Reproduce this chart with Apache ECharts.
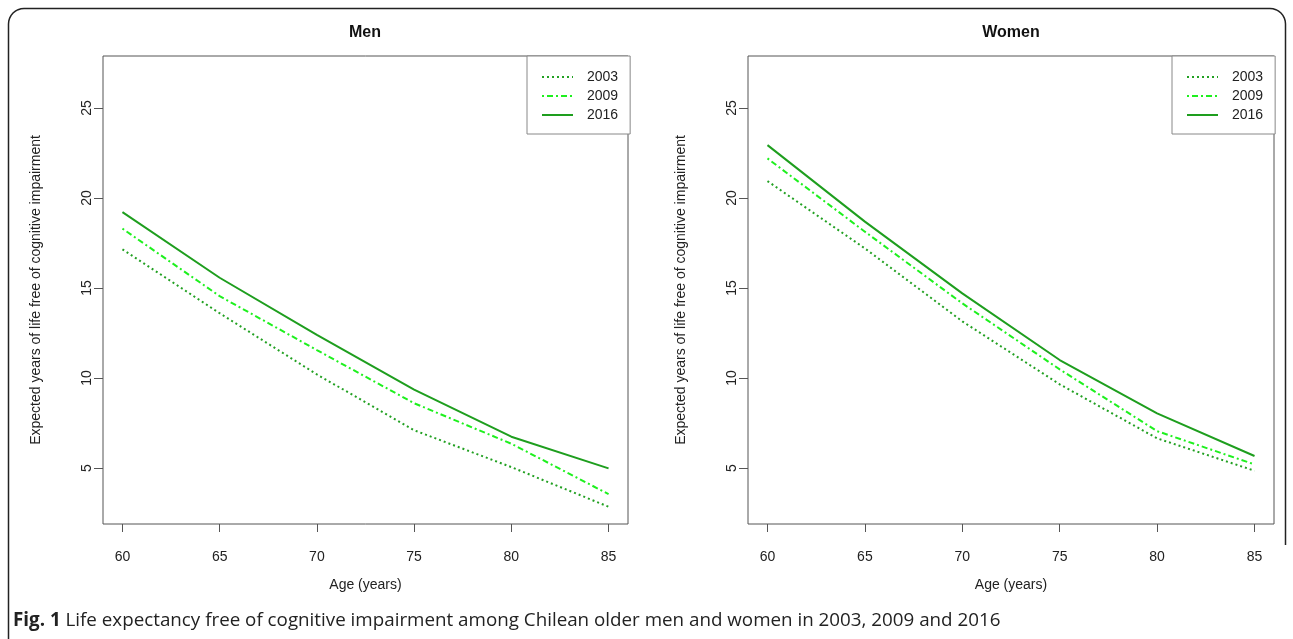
<!DOCTYPE html>
<html>
<head>
<meta charset="utf-8">
<script src="https://cdn.jsdelivr.net/npm/echarts@6/dist/echarts.min.js"></script>
<style>
html,body{margin:0;padding:0;background:#fff;}
#c{width:1293px;height:639px;}
</style>
</head>
<body>
<div id="c"></div>
<script>
var ages = [60, 65, 70, 75, 80, 85];
var years = ['2003', '2009', '2016'];
var men2003 = [17.15, 13.6, 10.2, 7.1, 5.05, 2.85];
var men2009 = [18.3, 14.55, 11.55, 8.6, 6.35, 3.55];
var men2016 = [19.22, 15.57, 12.4, 9.35, 6.74, 4.98];
var women2003 = [20.94, 17.2, 13.15, 9.65, 6.65, 4.85];
var women2009 = [22.2, 18.13, 14.15, 10.48, 7.05, 5.2];
var women2016 = [22.94, 18.69, 14.7, 11.0, 8.04, 5.67];
var xTicks = [60, 65, 70, 75, 80, 85];
var yTicks = [5, 10, 15, 20, 25];
var panelTitles = ['Men', 'Women'];
var xLabel = 'Age (years)';
var yLabel = 'Expected years of life free of cognitive impairment';
var caption = 'Life expectancy free of cognitive impairment among Chilean older men and women in 2003, 2009 and 2016';

var colors = {'2003': '#22a022', '2009': '#1ef01e', '2016': '#1e9e1e'};
var dashes = {'2003': [2, 3], '2009': [2, 3, 6, 3], '2016': 'solid'};
var FONT = '"Liberation Sans", Arial, sans-serif';

function pairs(vals) { return ages.map(function (a, i) { return [a, vals[i]]; }); }

var chart = echarts.init(document.getElementById('c'), null, {renderer: 'canvas'});

var grids = [
  {left: 103, top: 56, width: 525, height: 468},
  {left: 748, top: 56, width: 526, height: 468}
];
var panelData = [[men2003, men2009, men2016], [women2003, women2009, women2016]];

function mkX(i) {
  return {
    type: 'value', gridIndex: i, min: 59, max: 86,
    name: xLabel, nameLocation: 'middle', nameGap: 54,
    nameTextStyle: {fontFamily: FONT, fontSize: 14, color: '#222'},
    axisLine: {show: false},
    splitLine: {show: false},
    axisTick: {show: true, inside: false, length: 8, customValues: xTicks, lineStyle: {color: '#555'}},
    axisLabel: {customValues: xTicks, margin: 26, fontFamily: FONT, fontSize: 14, color: '#222'}
  };
}
function mkY(i) {
  return {
    type: 'value', gridIndex: i, min: 1.89, max: 27.89,
    name: yLabel, nameLocation: 'middle', nameGap: 60,
    nameTextStyle: {fontFamily: FONT, fontSize: 14, color: '#222'},
    axisLine: {show: false},
    splitLine: {show: false},
    axisTick: {show: true, inside: false, length: 9, customValues: yTicks, lineStyle: {color: '#555'}},
    axisLabel: {customValues: yTicks, rotate: 90, margin: 9, fontFamily: FONT, fontSize: 14, color: '#222'}
  };
}

var series = [];
for (var p = 0; p < 2; p++) {
  for (var k = 0; k < years.length; k++) {
    series.push({
      name: years[k], type: 'line', xAxisIndex: p, yAxisIndex: p,
      data: pairs(panelData[p][k]), symbol: 'none', smooth: false,
      color: colors[years[k]],
      lineStyle: {width: 2, type: dashes[years[k]], color: colors[years[k]]},
      animation: false
    });
  }
}

function mkLegend(left) {
  return {
    show: true, orient: 'vertical', left: left, top: 56,
    data: years, selectedMode: false,
    itemWidth: 31, itemHeight: 14, itemGap: 5,
    padding: [14, 12, 12, 14],
    borderColor: '#888', borderWidth: 1, borderRadius: 0,
    backgroundColor: '#fff',
    itemStyle: {opacity: 0},
    textStyle: {fontFamily: FONT, fontSize: 14, color: '#222', padding: [0, 0, 0, 9]}
  };
}

// rounded frame (decoration)
function framePoints() {
  var pts = [[8.5, 650], [8.5, 24]];
  var r = 15.5, cx = 24, cy = 24, i, a;
  for (i = 1; i <= 8; i++) { a = Math.PI + i * Math.PI / 16; pts.push([cx + r * Math.cos(a), cy + r * Math.sin(a)]); }
  pts.push([1270, 8.5]);
  cx = 1270;
  for (i = 1; i <= 8; i++) { a = 1.5 * Math.PI + i * Math.PI / 16; pts.push([cx + r * Math.cos(a), cy + r * Math.sin(a)]); }
  pts.push([1285.5, 545]);
  return pts;
}

chart.setOption({
  animation: false,
  backgroundColor: '#fff',
  title: [
    {text: panelTitles[0], left: 365, top: 25, textAlign: 'center', padding: 0,
     textStyle: {fontFamily: FONT, fontSize: 16, fontWeight: 'bold', color: '#111'}},
    {text: panelTitles[1], left: 1011, top: 25, textAlign: 'center', padding: 0,
     textStyle: {fontFamily: FONT, fontSize: 16, fontWeight: 'bold', color: '#111'}},
    {text: '{b|Fig. 1} ' + caption, left: 13, top: 611, padding: 0,
     textStyle: {fontFamily: '"Open Sans", sans-serif', fontSize: 18.8, fontWeight: 'normal', color: '#222',
       rich: {b: {fontFamily: '"Open Sans", sans-serif', fontSize: 18.8, fontWeight: 'bold', color: '#222'}}}}
  ],
  grid: grids.map(function (g) {
    return {left: g.left, top: g.top, width: g.width, height: g.height, show: true,
      borderColor: '#555', borderWidth: 1, backgroundColor: 'transparent', containLabel: false};
  }),
  xAxis: [mkX(0), mkX(1)],
  yAxis: [mkY(0), mkY(1)],
  legend: [mkLegend(527), mkLegend(1172)],
  series: series,
  graphic: [{
    type: 'polyline', silent: true,
    shape: {points: framePoints()},
    style: {stroke: '#222', lineWidth: 1.5, fill: null}
  }]
});
</script>
</body>
</html>
